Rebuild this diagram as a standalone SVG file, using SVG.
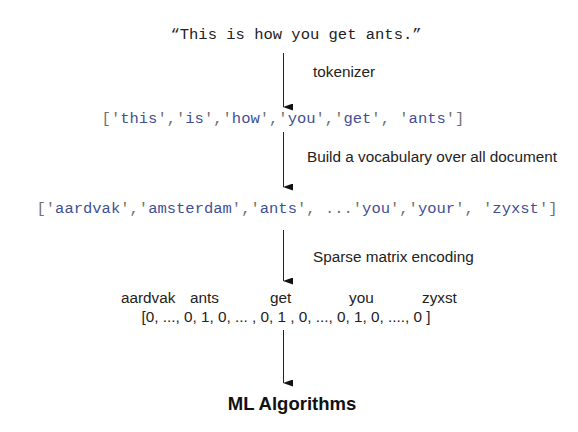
<svg xmlns="http://www.w3.org/2000/svg" width="578" height="432" viewBox="0 0 578 432">
<style>
.mono{font-family:"Liberation Mono","DejaVu Sans Mono",monospace;font-size:15.5px}
.p{fill:#707070}
.w{fill:#3f4f95}
.lbl{font-family:"Liberation Sans",Arial,sans-serif;font-size:15.3px;fill:#222}
.edge{stroke:#222;stroke-width:1;fill:none}
</style>
<defs>
<marker id="ah" markerWidth="7" markerHeight="10" refX="3.5" refY="9.5" orient="auto" markerUnits="userSpaceOnUse" viewBox="0 0 7 10">
<path d="M0,0 L7,0 L3.5,10 Z" fill="#111"/>
</marker>
</defs>
<rect width="578" height="432" fill="#fff"/>
<g id="sentence"><text class="mono" x="296" y="39" text-anchor="middle" fill="#222">“This is how you get ants.”</text></g>
<g id="tokens"><text class="mono" x="283" y="123" text-anchor="middle"><tspan class="p">['</tspan><tspan class="w">this</tspan><tspan class="p">','</tspan><tspan class="w">is</tspan><tspan class="p">','</tspan><tspan class="w">how</tspan><tspan class="p">','</tspan><tspan class="w">you</tspan><tspan class="p">','</tspan><tspan class="w">get</tspan><tspan class="p">', '</tspan><tspan class="w">ants</tspan><tspan class="p">']</tspan></text></g>
<g id="vocab"><text class="mono" x="297" y="213" text-anchor="middle"><tspan class="p">['</tspan><tspan class="w">aardvak</tspan><tspan class="p">','</tspan><tspan class="w">amsterdam</tspan><tspan class="p">','</tspan><tspan class="w">ants</tspan><tspan class="p">', ...'</tspan><tspan class="w">you</tspan><tspan class="p">','</tspan><tspan class="w">your</tspan><tspan class="p">', '</tspan><tspan class="w">zyxst</tspan><tspan class="p">']</tspan></text></g>
<g id="encoding">
<text class="lbl" y="303"><tspan x="121">aardvak</tspan><tspan x="190">ants</tspan><tspan x="270">get</tspan><tspan x="349">you</tspan><tspan x="422">zyxst</tspan></text>
<text class="lbl" x="286" y="322" text-anchor="middle">[0, ..., 0, 1, 0, ... , 0, 1 , 0, ..., 0, 1, 0, ...., 0 ]</text>
</g>
<g id="ml"><text x="292" y="410" text-anchor="middle" style="font-family:'Liberation Sans',Arial,sans-serif;font-size:18.5px;font-weight:bold;fill:#111">ML Algorithms</text></g>
<g id="connectors">
<line class="edge" x1="283.5" y1="53" x2="283.5" y2="107" marker-end="url(#ah)"/>
<line class="edge" x1="283.5" y1="132" x2="283.5" y2="187" marker-end="url(#ah)"/>
<line class="edge" x1="283.5" y1="230" x2="283.5" y2="281" marker-end="url(#ah)"/>
<line class="edge" x1="283.5" y1="330" x2="283.5" y2="383" marker-end="url(#ah)"/>
<text class="lbl" x="313" y="77">tokenizer</text>
<text class="lbl" x="307" y="162">Build a vocabulary over all document</text>
<text class="lbl" x="313" y="262">Sparse matrix encoding</text>
</g>
</svg>
